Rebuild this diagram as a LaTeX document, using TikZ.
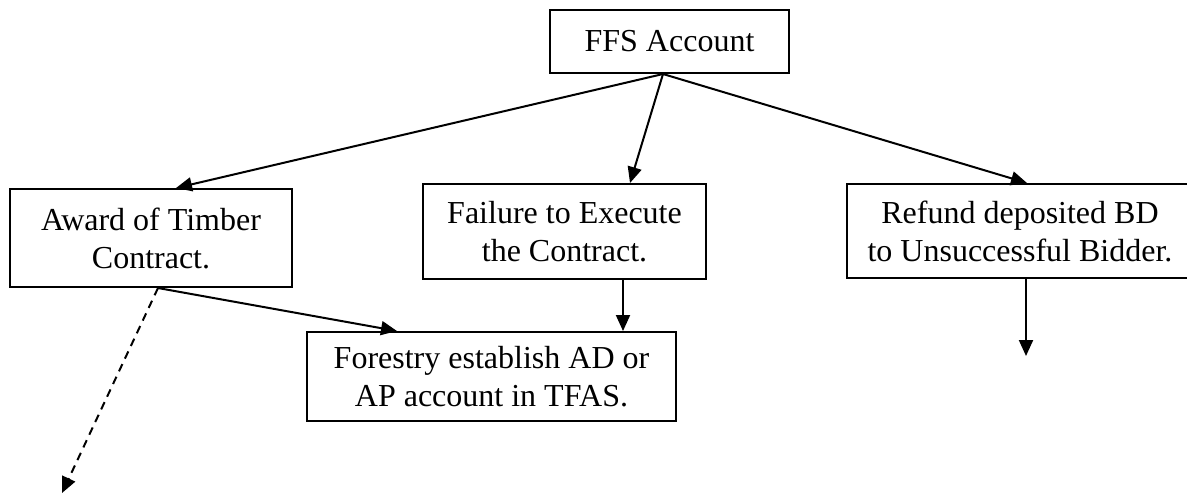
\documentclass[tikz,border=0pt]{standalone}
\usepackage{fontspec}
\setmainfont{Liberation Serif}
\usetikzlibrary{arrows.meta,calc}

\tikzset{
  acct/.style={draw,rectangle,line width=1pt,inner sep=0pt,align=center,
    font=\fontsize{16}{19}\selectfont},
  flow/.style={line width=1pt,-{Triangle[length=8pt,width=7pt]}}
}

\begin{document}
\begin{tikzpicture}[x=0.5pt,y=-0.5pt]
\useasboundingbox (0,0) rectangle (1187,495);
\clip (0,0) rectangle (1187,495);

\node [acct,minimum width=119.5pt,minimum height=31.5pt] (ffs) at(669.5,41.5){FFS Account};

\node [acct,minimum width=141pt,minimum height=49pt] (award) at(151,238){Award of Timber\\Contract.};
\node [acct,minimum width=141.5pt,minimum height=47.5pt] (fail) at(564.5,231.5){Failure to Execute\\the Contract.};
\node [acct,minimum width=173pt,minimum height=47pt] (refund) at(1020,231){Refund deposited BD\\to Unsuccessful Bidder.};

\node [acct,minimum width=184.5pt,minimum height=44.5pt] (forest) at(491.5,376.5){Forestry establish AD or\\AP account in TFAS.};

\coordinate (ffsout) at ($(ffs.south)+(-6.5,0)$);
\coordinate (awardout) at ($(award.south)+(7,0)$);
\coordinate (lost) at (62,493);
\coordinate (paid) at (1026,356);

\draw[flow](ffsout) -- ($(award.north)+(25,0)$);
\draw[flow](ffsout) -- ($(fail.north)+(65.5,0)$);
\draw[flow](ffsout) -- ($(refund.north)+(7,0)$);

\draw[flow](awardout) -- ($(forest.north)+(-94.5,0)$);
\draw[flow,dash pattern=on 4pt off 3pt](awardout) -- (lost);
\draw[flow]($(fail.south)+(58.5,0)$) -- ($(forest.north)+(131.5,0)$);
\draw[flow]($(refund.south)+(6,0)$) -- (paid);
%\draw[flow](forest) -- (paid);

\end{tikzpicture}
\end{document}
